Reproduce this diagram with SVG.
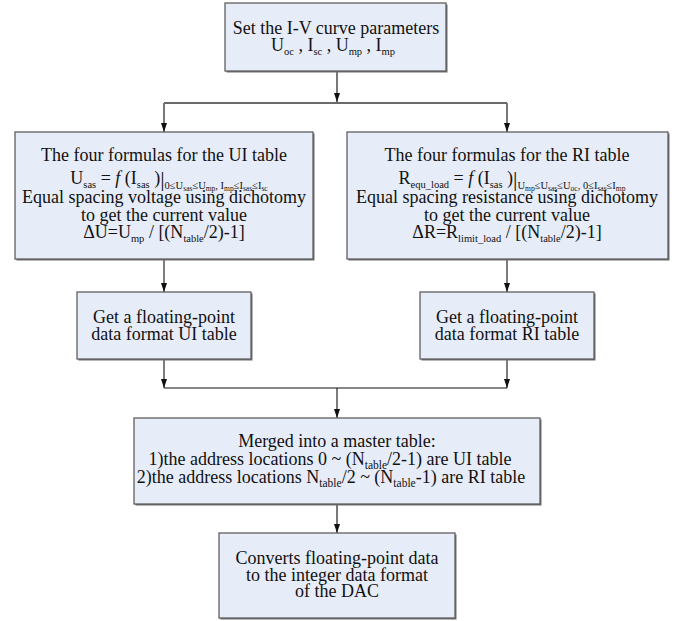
<svg xmlns="http://www.w3.org/2000/svg" width="681" height="621" viewBox="0 0 681 621">
<style>
.bg{fill:#ffffff}
.shadow{fill:#6e6e6e}
.box{fill:#e7edf8;stroke:#5f5f5f;stroke-width:1.3}
.t{font-family:"Liberation Serif","Times New Roman",serif;font-size:18px;fill:#111;text-anchor:middle}
.s{font-size:10.5px}
.s2{font-size:11.5px}
.c{font-size:10.5px}
.cc{font-size:7.5px}
.g{fill:none;stroke:#6a6a6a;stroke-width:1.8}
.k{fill:none;stroke:#111;stroke-width:1.1}
</style>
<defs>
<marker id="ah" viewBox="0 0 10 10" refX="10" refY="5" markerWidth="9" markerHeight="6" markerUnits="userSpaceOnUse" orient="auto" preserveAspectRatio="none">
<path d="M0,0 L10,5 L0,10 z" fill="#111"/>
</marker>
</defs>
<rect class="bg" x="0" y="0" width="681" height="621"/>

<g id="connectors">
<path class="g" d="M337,71 V102" marker-end="url(#ah)"/>
<path class="g" d="M164,103 H507"/>
<path class="g" d="M164,103 V132" marker-end="url(#ah)"/>
<path class="g" d="M507,103 V132" marker-end="url(#ah)"/>
<path class="k" d="M164,259 V292" marker-end="url(#ah)"/>
<path class="k" d="M507,259 V292" marker-end="url(#ah)"/>
<path class="k" d="M164,359 V388" marker-end="url(#ah)"/>
<path class="k" d="M507,359 V388" marker-end="url(#ah)"/>
<path class="k" d="M164,388 H507"/>
<path class="k" d="M337,388 V418" marker-end="url(#ah)"/>
<path class="g" d="M337,504 V533" marker-end="url(#ah)"/>
</g>

<g id="node-params">
<rect class="shadow" x="226.5" y="4.5" width="221" height="68"/>
<rect class="box" x="225" y="3" width="221" height="68"/>
<text class="t" x="336" y="34">Set the I-V curve parameters</text>
<text class="t" x="333" y="51">U<tspan class="s" dy="4">oc</tspan><tspan dy="-4"> , I</tspan><tspan class="s" dy="4">sc</tspan><tspan dy="-4"> , U</tspan><tspan class="s" dy="4">mp</tspan><tspan dy="-4"> , I</tspan><tspan class="s" dy="4">mp</tspan></text>
</g>

<g id="node-ui-formulas">
<rect class="shadow" x="16.5" y="133.5" width="298" height="127"/>
<rect class="box" x="15" y="132" width="298" height="127"/>
<text class="t" x="164" y="161">The four formulas for the UI table</text>
<text class="t" x="169" y="184">U<tspan class="s" dy="4">sas</tspan><tspan dy="-4"> = </tspan><tspan font-style="italic">f</tspan><tspan> (I</tspan><tspan class="s" dy="4">sas</tspan><tspan dy="-4"> )</tspan><tspan font-size="22" dy="2">|</tspan><tspan class="c" dy="3">0≤U</tspan><tspan class="cc" dy="1.5">sas</tspan><tspan class="c" dy="-1.5">≤U</tspan><tspan class="cc" dy="1.5">mp</tspan><tspan class="c" dy="-1.5">, I</tspan><tspan class="cc" dy="1.5">mp</tspan><tspan class="c" dy="-1.5">≤I</tspan><tspan class="cc" dy="1.5">sas</tspan><tspan class="c" dy="-1.5">≤I</tspan><tspan class="cc" dy="1.5">sc</tspan></text>
<text class="t" x="164" y="203">Equal spacing voltage using dichotomy</text>
<text class="t" x="164" y="221">to get the current value</text>
<text class="t" x="164" y="238">ΔU=U<tspan class="s" dy="4">mp</tspan><tspan dy="-4"> / [(N</tspan><tspan class="s" dy="4">table</tspan><tspan dy="-4">/2)-1]</tspan></text>
</g>

<g id="node-ri-formulas">
<rect class="shadow" x="348.5" y="133.5" width="321" height="127"/>
<rect class="box" x="347" y="132" width="321" height="127"/>
<text class="t" x="507" y="161">The four formulas for the RI table</text>
<text class="t" x="512" y="184">R<tspan class="s" dy="4">equ_load</tspan><tspan dy="-4"> = </tspan><tspan font-style="italic">f</tspan><tspan> (I</tspan><tspan class="s" dy="4">sas</tspan><tspan dy="-4"> )</tspan><tspan font-size="22" dy="2">|</tspan><tspan class="c" dy="3">U</tspan><tspan class="cc" dy="1.5">mp</tspan><tspan class="c" dy="-1.5">≤U</tspan><tspan class="cc" dy="1.5">sas</tspan><tspan class="c" dy="-1.5">≤U</tspan><tspan class="cc" dy="1.5">oc</tspan><tspan class="c" dy="-1.5">, 0≤I</tspan><tspan class="cc" dy="1.5">sas</tspan><tspan class="c" dy="-1.5">≤I</tspan><tspan class="cc" dy="1.5">mp</tspan></text>
<text class="t" x="507" y="203">Equal spacing resistance using dichotomy</text>
<text class="t" x="507" y="221">to get the current value</text>
<text class="t" x="507" y="238">ΔR=R<tspan class="s" dy="4">limit_load</tspan><tspan dy="-4"> / [(N</tspan><tspan class="s" dy="4">table</tspan><tspan dy="-4">/2)-1]</tspan></text>
</g>

<g id="node-ui-table">
<rect class="shadow" x="78.5" y="293.5" width="174" height="67"/>
<rect class="box" x="77" y="292" width="174" height="67"/>
<text class="t" x="164" y="323">Get a floating-point</text>
<text class="t" x="164" y="340">data format UI table</text>
</g>

<g id="node-ri-table">
<rect class="shadow" x="421.5" y="293.5" width="174" height="67"/>
<rect class="box" x="420" y="292" width="174" height="67"/>
<text class="t" x="507" y="323">Get a floating-point</text>
<text class="t" x="507" y="340">data format RI table</text>
</g>

<g id="node-master">
<rect class="shadow" x="135.5" y="419.5" width="406" height="86"/>
<rect class="box" x="134" y="418" width="406" height="86"/>
<text class="t" x="337" y="447">Merged into a master table:</text>
<text class="t" x="330" y="465">1)the address locations 0 ~ (N<tspan class="s2" dy="4">table</tspan><tspan dy="-4">/2-1) are UI table</tspan></text>
<text class="t" x="331" y="483">2)the address locations N<tspan class="s2" dy="4">table</tspan><tspan dy="-4">/2 ~ (N</tspan><tspan class="s2" dy="4">table</tspan><tspan dy="-4">-1) are RI table</tspan></text>
</g>

<g id="node-convert">
<rect class="shadow" x="220.5" y="534.5" width="236" height="85"/>
<rect class="box" x="219" y="533" width="236" height="85"/>
<text class="t" x="337" y="564">Converts floating-point data</text>
<text class="t" x="337" y="581">to the integer data format</text>
<text class="t" x="337" y="597">of the DAC</text>
</g>
</svg>
